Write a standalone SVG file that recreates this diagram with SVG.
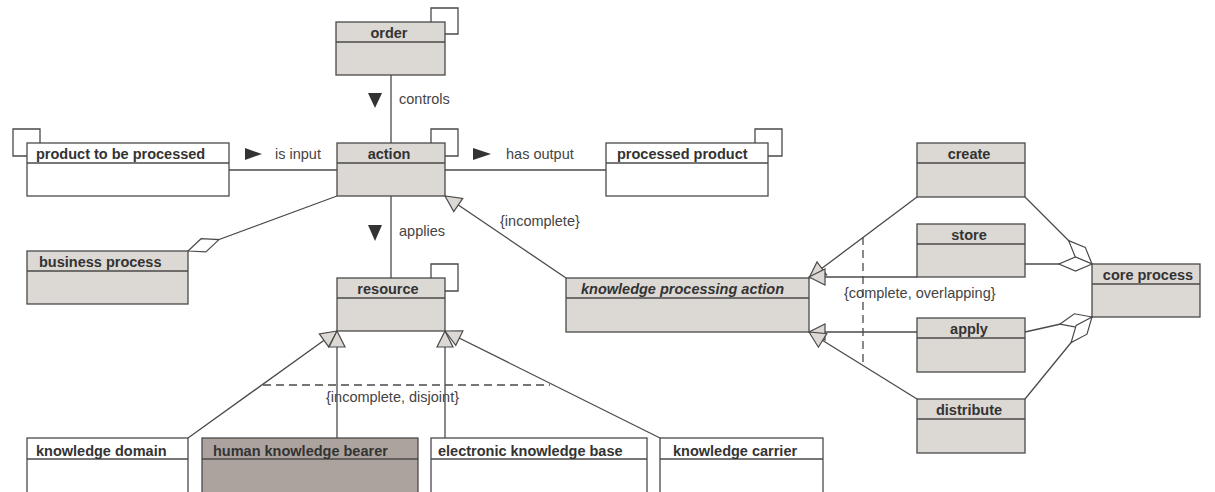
<svg xmlns="http://www.w3.org/2000/svg" width="1215" height="492" viewBox="0 0 1215 492">
<style>
.box{fill:#dcd8d4;stroke:#4a4a4a;stroke-width:1.3}
.wbox{fill:#ffffff;stroke:#4a4a4a;stroke-width:1.3}
.dbox{fill:#aca39e;stroke:#4a4a4a;stroke-width:1.3}
.div{stroke:#4a4a4a;stroke-width:1.3;fill:none}
.ln{stroke:#4a4a4a;stroke-width:1.3;fill:none}
.dash{stroke:#4a4a4a;stroke-width:1.3;fill:none;stroke-dasharray:8,5}
.name{font-family:"Liberation Sans",Arial,Helvetica,sans-serif;font-size:14.5px;font-weight:bold;fill:#333333}
.ital{font-style:italic}
.lbl{font-family:"Liberation Sans",Arial,Helvetica,sans-serif;font-size:14.5px;fill:#444444}
.dir{fill:#333333;stroke:none}
</style>
<defs>
<marker id="gen" viewBox="-1 -10 20 20" refX="17" refY="0" markerWidth="20" markerHeight="20" markerUnits="userSpaceOnUse" orient="auto">
<path d="M17,0 L1,-8 L1,8 Z" fill="#dcd8d4" stroke="#4a4a4a" stroke-width="1.2"/>
</marker>
<marker id="agg" viewBox="-1 -9 36 18" refX="33" refY="0" markerWidth="36" markerHeight="18" markerUnits="userSpaceOnUse" orient="auto">
<path d="M33,0 L16.5,-7 L0,0 L16.5,7 Z" fill="#ffffff" stroke="#4a4a4a" stroke-width="1.2"/>
</marker>
</defs>

<g id="connectors">
<!-- order controls action -->
<line class="ln" x1="391" y1="75" x2="391" y2="143"/>
<polygon class="dir" points="368,93 382,93 375,108"/>
<text class="lbl" x="399" y="104">controls</text>
<!-- is input -->
<line class="ln" x1="229" y1="170" x2="337" y2="170"/>
<polygon class="dir" points="245,148 262,154 245,160"/>
<text class="lbl" x="275" y="159">is input</text>
<!-- has output -->
<line class="ln" x1="445" y1="170" x2="606" y2="170"/>
<polygon class="dir" points="473,148 491,154 473,160"/>
<text class="lbl" x="506" y="159">has output</text>
<!-- applies -->
<line class="ln" x1="391" y1="196" x2="391" y2="278"/>
<polygon class="dir" points="368,225 382,225 375,241"/>
<text class="lbl" x="399" y="236">applies</text>
<!-- business process aggregation -->
<line class="ln" x1="337" y1="196" x2="188" y2="251" marker-end="url(#agg)"/>
<!-- self loops -->
<polyline class="ln" points="431,22 431,8 458,8 458,34 445,34"/>
<polyline class="ln" points="431,143 431,129 458,129 458,156 445,156"/>
<polyline class="ln" points="431,278 431,264 458,264 458,291 445,291"/>
<polyline class="ln" points="40,143 40,129 13,129 13,156 27,156"/>
<polyline class="ln" points="755,143 755,129 782,129 782,156 768,156"/>
<!-- kpa generalizes to action -->
<line class="ln" x1="566" y1="278" x2="445" y2="196" marker-end="url(#gen)"/>
<text class="lbl" x="500" y="226">{incomplete}</text>
<!-- resource specializations -->
<line class="ln" x1="188" y1="438" x2="337" y2="331" marker-end="url(#gen)"/>
<line class="ln" x1="337" y1="438" x2="337" y2="331" marker-end="url(#gen)"/>
<line class="ln" x1="445" y1="438" x2="445" y2="331" marker-end="url(#gen)"/>
<line class="ln" x1="660" y1="438" x2="445" y2="331" marker-end="url(#gen)"/>
<line class="dash" x1="263" y1="385" x2="550" y2="385"/>
<text class="lbl" x="326" y="402">{incomplete, disjoint}</text>
<!-- kpa specializations -->
<line class="ln" x1="917" y1="197" x2="809" y2="278" marker-end="url(#gen)"/>
<line class="ln" x1="917" y1="277" x2="809" y2="277" marker-end="url(#gen)"/>
<line class="ln" x1="917" y1="332" x2="809" y2="332" marker-end="url(#gen)"/>
<line class="ln" x1="917" y1="399" x2="809" y2="332" marker-end="url(#gen)"/>
<line class="dash" x1="863" y1="237" x2="863" y2="365"/>
<text class="lbl" x="844" y="298">{complete, overlapping}</text>
<!-- core process aggregation -->
<line class="ln" x1="1025" y1="197" x2="1092" y2="264" marker-end="url(#agg)"/>
<line class="ln" x1="1025" y1="264" x2="1092" y2="264" marker-end="url(#agg)"/>
<line class="ln" x1="1025" y1="332" x2="1092" y2="317" marker-end="url(#agg)"/>
<line class="ln" x1="1025" y1="399" x2="1092" y2="317" marker-end="url(#agg)"/>
</g>

<g id="order">
<rect class="box" x="336" y="22" width="109" height="53"/>
<line class="div" x1="336" y1="42" x2="445" y2="42"/>
<text class="name" x="389" y="38" text-anchor="middle">order</text>
</g>
<g id="action">
<rect class="box" x="337" y="143" width="108" height="53"/>
<line class="div" x1="337" y1="163" x2="445" y2="163"/>
<text class="name" x="389" y="159" text-anchor="middle">action</text>
</g>
<g id="product-to-be-processed">
<rect class="wbox" x="27" y="143" width="202" height="53"/>
<line class="div" x1="27" y1="163" x2="229" y2="163"/>
<text class="name" x="36" y="159">product to be processed</text>
</g>
<g id="processed-product">
<rect class="wbox" x="606" y="143" width="162" height="53"/>
<line class="div" x1="606" y1="163" x2="768" y2="163"/>
<text class="name" x="617" y="159">processed product</text>
</g>
<g id="business-process">
<rect class="box" x="27" y="251" width="161" height="53"/>
<line class="div" x1="27" y1="271" x2="188" y2="271"/>
<text class="name" x="39" y="267">business process</text>
</g>
<g id="resource">
<rect class="box" x="337" y="278" width="108" height="53"/>
<line class="div" x1="337" y1="298" x2="445" y2="298"/>
<text class="name" x="388" y="294" text-anchor="middle">resource</text>
</g>
<g id="knowledge-processing-action">
<rect class="box" x="566" y="278" width="243" height="54"/>
<line class="div" x1="566" y1="298" x2="809" y2="298"/>
<text class="name ital" x="581" y="294">knowledge processing action</text>
</g>
<g id="create">
<rect class="box" x="917" y="143" width="108" height="54"/>
<line class="div" x1="917" y1="163" x2="1025" y2="163"/>
<text class="name" x="969" y="159" text-anchor="middle">create</text>
</g>
<g id="store">
<rect class="box" x="917" y="224" width="108" height="53"/>
<line class="div" x1="917" y1="244" x2="1025" y2="244"/>
<text class="name" x="969" y="240" text-anchor="middle">store</text>
</g>
<g id="apply">
<rect class="box" x="917" y="318" width="108" height="54"/>
<line class="div" x1="917" y1="338" x2="1025" y2="338"/>
<text class="name" x="969" y="334" text-anchor="middle">apply</text>
</g>
<g id="distribute">
<rect class="box" x="917" y="399" width="108" height="54"/>
<line class="div" x1="917" y1="419" x2="1025" y2="419"/>
<text class="name" x="969" y="415" text-anchor="middle">distribute</text>
</g>
<g id="core-process">
<rect class="box" x="1092" y="264" width="108" height="53"/>
<line class="div" x1="1092" y1="284" x2="1200" y2="284"/>
<text class="name" x="1148" y="280" text-anchor="middle">core process</text>
</g>
<g id="knowledge-domain">
<rect class="wbox" x="27" y="438" width="161" height="62"/>
<line class="div" x1="27" y1="459" x2="188" y2="459"/>
<text class="name" x="36" y="456">knowledge domain</text>
</g>
<g id="human-knowledge-bearer">
<rect class="dbox" x="202" y="438" width="216" height="62"/>
<line class="div" x1="202" y1="459" x2="418" y2="459"/>
<text class="name" x="213" y="456">human knowledge bearer</text>
</g>
<g id="electronic-knowledge-base">
<rect class="wbox" x="431" y="438" width="216" height="62"/>
<line class="div" x1="431" y1="459" x2="647" y2="459"/>
<text class="name" x="438" y="456">electronic knowledge base</text>
</g>
<g id="knowledge-carrier">
<rect class="wbox" x="660" y="438" width="163" height="62"/>
<line class="div" x1="660" y1="459" x2="823" y2="459"/>
<text class="name" x="673" y="456">knowledge carrier</text>
</g>
</svg>
